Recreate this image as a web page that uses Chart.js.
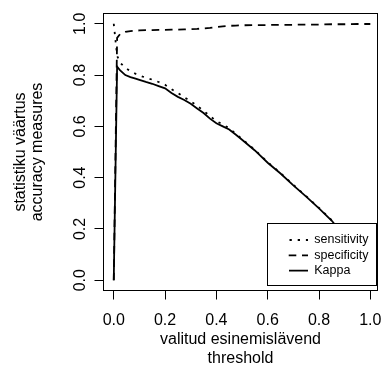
<!DOCTYPE html>
<html>
<head>
<meta charset="utf-8">
<script src="https://cdn.jsdelivr.net/npm/chart.js@4/dist/chart.umd.min.js"></script>
<style>
html,body{margin:0;padding:0;background:#fff;}
#c{display:block;}
</style>
</head>
<body>
<canvas id="c" width="382" height="368"></canvas>
<script>
// ---- data ----
const thresholds  = [0, 0.013, 0.025, 0.045, 0.065, 0.085, 0.1, 0.125, 0.15, 0.175, 0.2, 0.225, 0.25, 0.275, 0.3, 0.325, 0.35, 0.375, 0.4, 0.425, 0.45, 0.475, 0.5, 0.55, 0.6, 0.65, 0.7, 0.75, 0.8, 0.85, 0.9, 0.95, 1.0];
const sensitivity = [1.0, 0.875, 0.848, 0.828, 0.815, 0.805, 0.798, 0.790, 0.782, 0.773, 0.762, 0.745, 0.730, 0.713, 0.698, 0.680, 0.661, 0.640, 0.621, 0.607, 0.593, 0.572, 0.551, 0.508, 0.460, 0.418, 0.372, 0.328, 0.282, 0.234, 0.172, 0.102, 0.032];
const specificity = [0, 0.945, 0.960, 0.968, 0.971, 0.973, 0.974, 0.975, 0.975, 0.976, 0.976, 0.977, 0.977, 0.978, 0.979, 0.980, 0.982, 0.984, 0.987, 0.990, 0.992, 0.993, 0.994, 0.995, 0.995, 0.996, 0.996, 0.997, 0.997, 0.998, 0.998, 0.999, 0.999];
const kappa       = [0, 0.833, 0.818, 0.800, 0.792, 0.786, 0.781, 0.773, 0.766, 0.757, 0.748, 0.730, 0.715, 0.703, 0.688, 0.670, 0.652, 0.630, 0.612, 0.600, 0.588, 0.568, 0.548, 0.506, 0.458, 0.416, 0.370, 0.326, 0.280, 0.232, 0.170, 0.100, 0.030];
const seriesNames = ['sensitivity', 'specificity', 'Kappa'];
const xTickValues = [0, 0.2, 0.4, 0.6, 0.8, 1.0];
const yTickValues = [0, 0.2, 0.4, 0.6, 0.8, 1.0];
const xTitle = ['valitud esinemislävend', 'threshold'];
const yTitle = ['statistiku väärtus', 'accuracy measures'];

// ---- styling ----
const FONT = "'Liberation Sans', Arial, Helvetica, sans-serif";
Chart.defaults.font.family = FONT;
Chart.defaults.color = '#000';

const lineDashes   = [[2.3, 5.9], [7.6, 5.7], []];
const legendDashes = [[0, 10.5, 2.3, 5.9, 2.3, 5.9, 2.3, 100], [0, 9.7, 7.6, 5.7, 7.7, 100], [0, 10, 19, 100]];
const seriesValues = [sensitivity, specificity, kappa];

const AREA = {left: 103.5, top: 13.5, right: 377.5, bottom: 290.5};
const LEG = {left: 267.5, top: 223.5, right: 376.5, bottom: 285.5};

const datasets = seriesNames.map((name, i) => ({
  label: name,
  data: thresholds.map((t, j) => ({x: t, y: seriesValues[i][j]})),
  borderColor: '#000',
  backgroundColor: '#000',
  borderWidth: 1.8,
  borderDash: lineDashes[i],
  borderCapStyle: 'butt',
  pointRadius: 0,
  tension: 0,
  fill: false
}));

const framePlugin = {
  id: 'frameAndLegend',
  afterLayout(chart) {
    const lg = chart.legend;
    if (lg) { lg.left = 276.2; lg.top = 230.95; lg.right = 376; lg.bottom = 285; }
  },
  afterDatasetsDraw(chart) {
    const ctx = chart.ctx;
    const a = chart.chartArea;
    ctx.save();
    ctx.strokeStyle = '#000';
    ctx.lineWidth = 1;
    ctx.setLineDash([]);
    ctx.strokeRect(a.left, a.top, a.right - a.left, a.bottom - a.top);
    ctx.fillStyle = '#fff';
    ctx.fillRect(LEG.left, LEG.top, LEG.right - LEG.left, LEG.bottom - LEG.top);
    ctx.strokeRect(LEG.left, LEG.top, LEG.right - LEG.left, LEG.bottom - LEG.top);
    ctx.restore();
    const lg = chart.legend;
    if (lg) {
      ctx.save();
      lg.draw();
      ctx.restore();
    }
  }
};

new Chart(document.getElementById('c'), {
  type: 'line',
  data: {datasets},
  options: {
    responsive: false,
    devicePixelRatio: 1,
    animation: false,
    events: [],
    parsing: false,
    layout: {padding: {top: AREA.top, right: 382 - AREA.right, left: 0, bottom: 0}},
    plugins: {
      tooltip: {enabled: false},
      legend: {
        display: true,
        position: 'chartArea',
        align: 'start',
        labels: {
          color: '#000',
          font: {size: 12.5, family: FONT},
          padding: 2.8,
          usePointStyle: true,
          pointStyle: 'line',
          pointStyleWidth: 29,
          boxHeight: 12.5,
          generateLabels(chart) {
            const items = Chart.defaults.plugins.legend.labels.generateLabels(chart);
            items.forEach((it, i) => {
              it.lineDash = legendDashes[i];
              it.pointStyle = 'line';
              it.rotation = 0;
              it.lineWidth = 1.8;
              it.strokeStyle = '#000';
              it.fillStyle = '#000';
              it.fontColor = '#000';
            });
            return items;
          }
        }
      }
    },
    scales: {
      x: {
        type: 'linear',
        min: -0.04,
        max: 1.028,
        afterBuildTicks: s => { s.ticks = xTickValues.map(v => ({value: v})); },
        afterFit: s => { s.height = 368 - AREA.bottom; s.paddingLeft = 0; s.paddingRight = 0; },
        border: {display: false},
        grid: {display: true, drawOnChartArea: false, drawTicks: true, tickLength: 9, color: '#000', lineWidth: 1},
        ticks: {
          autoSkip: false, maxRotation: 0, minRotation: 0, padding: 11,
          font: {size: 16, family: FONT}, color: '#000',
          callback: v => Number(v).toFixed(1)
        },
        title: {
          display: true, text: xTitle, color: '#000',
          font: {size: 16, family: FONT, lineHeight: 1.17},
          padding: {top: 0, bottom: 0}
        }
      },
      y: {
        type: 'linear',
        min: -0.04,
        max: 1.04,
        afterBuildTicks: s => { s.ticks = yTickValues.map(v => ({value: v})); },
        afterFit: s => { s.width = AREA.left; s.paddingTop = 0; s.paddingBottom = 0; },
        border: {display: false},
        grid: {display: true, drawOnChartArea: false, drawTicks: true, tickLength: 9, color: '#000', lineWidth: 1},
        ticks: {
          autoSkip: false, minRotation: 90, maxRotation: 90, padding: 3, crossAlign: 'center',
          font: {size: 16, family: FONT}, color: '#000',
          callback: v => Number(v).toFixed(1)
        },
        title: {
          display: true, text: yTitle, color: '#000',
          font: {size: 16, family: FONT, lineHeight: 1.1},
          padding: {top: 11.5, bottom: 0}
        }
      }
    }
  },
  plugins: [framePlugin]
});
</script>
</body>
</html>
